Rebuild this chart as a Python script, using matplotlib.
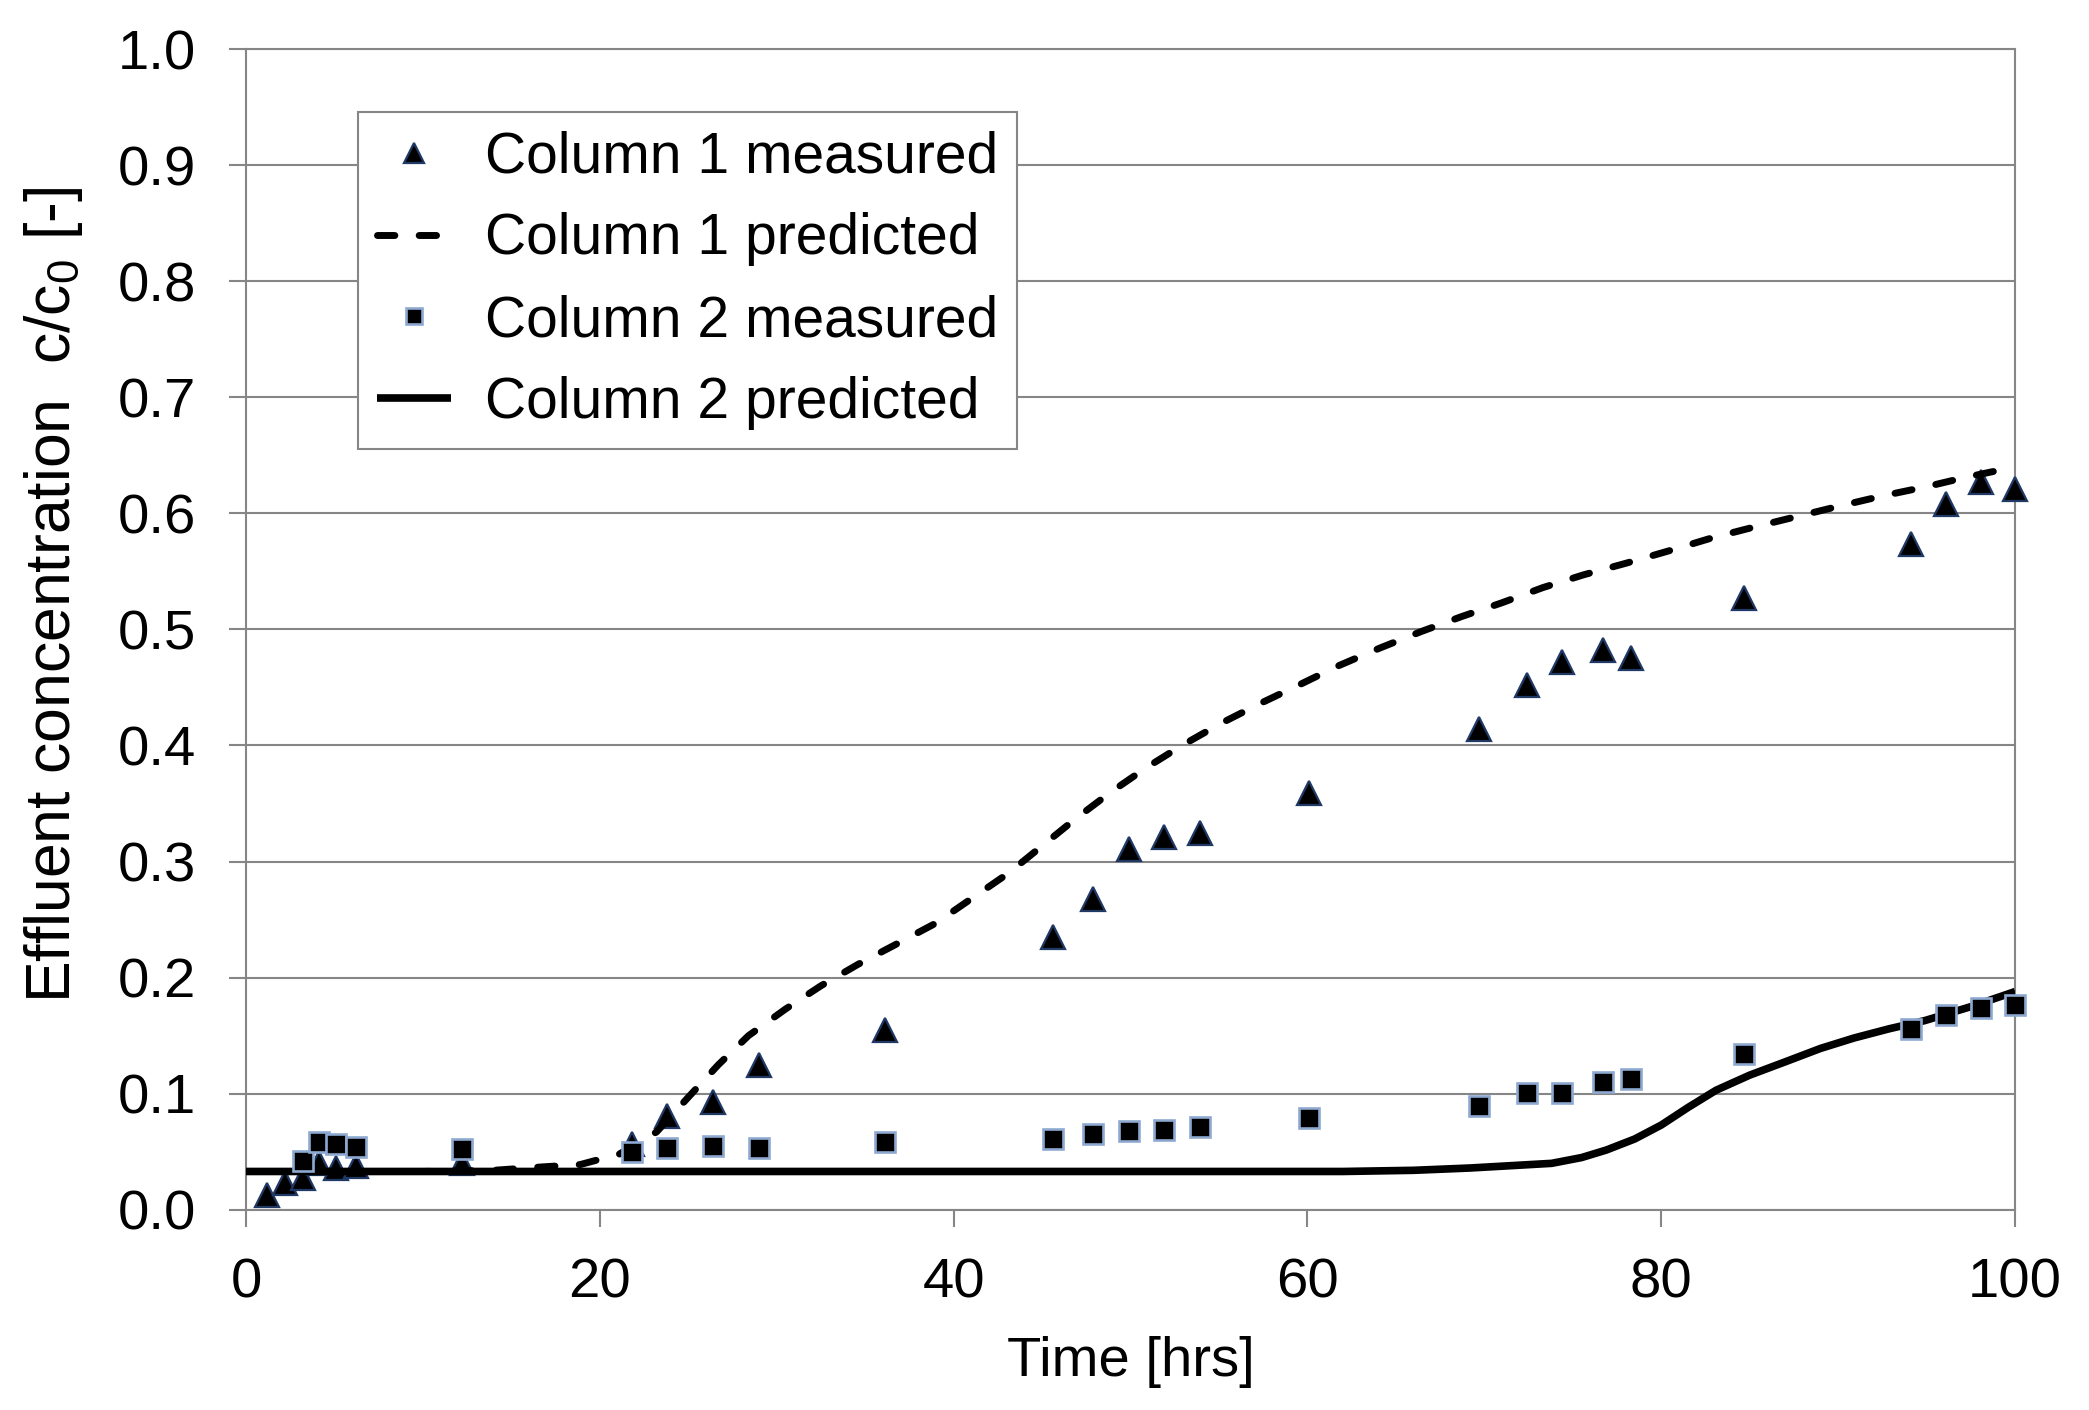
import numpy as np
import matplotlib
matplotlib.use("Agg")
import matplotlib.pyplot as plt

plt.rcParams['font.family'] = ['Liberation Sans', 'DejaVu Sans']
plt.rcParams['mathtext.fontset'] = 'custom'
plt.rcParams['mathtext.rm'] = 'Liberation Sans'
plt.rcParams['mathtext.it'] = 'Liberation Sans:italic'
plt.rcParams['mathtext.default'] = 'rm'

# measured points
t_col1 = [1.2, 2.2, 3.2, 4.1, 5.1, 6.2, 12.2, 21.8, 23.8, 26.4, 29.0, 36.1,
          45.6, 47.9, 49.9, 51.9, 53.9, 60.1, 69.7, 72.4, 74.4, 76.7, 78.3,
          84.7, 94.1, 96.1, 98.1, 100.0]
c_col1 = [0.013, 0.023, 0.027, 0.040, 0.036, 0.038, 0.040, 0.057, 0.081, 0.093,
          0.125, 0.155, 0.235, 0.268, 0.311, 0.321, 0.325, 0.359, 0.414, 0.452,
          0.472, 0.482, 0.475, 0.527, 0.574, 0.608, 0.627, 0.621]

t_col2 = [3.2, 4.1, 5.1, 6.2, 12.2, 21.8, 23.8, 26.4, 29.0, 36.1,
          45.6, 47.9, 49.9, 51.9, 53.9, 60.1, 69.7, 72.4, 74.4, 76.7, 78.3,
          84.7, 94.1, 96.1, 98.1, 100.0]
c_col2 = [0.042, 0.058, 0.057, 0.054, 0.052, 0.050, 0.053, 0.055, 0.053, 0.058,
          0.061, 0.065, 0.068, 0.069, 0.071, 0.079, 0.089, 0.101, 0.101, 0.110,
          0.113, 0.134, 0.156, 0.168, 0.174, 0.176]

# predicted curves
t_pred1 = [0, 5, 10, 14, 16.4, 18.9, 21.1, 23.2, 25.0, 26.7, 28.4, 30.5, 32.5,
           34.6, 36.9, 39.0, 41.0, 43.1, 45.0, 46.9, 48.9, 50.9, 52.9, 55.1,
           57.3, 59.5, 61.8, 64.1, 66.4, 68.7, 71.0, 73.3, 75.6, 78.0, 80.5,
           82.9, 85.2, 87.6, 90.0, 92.5, 95.0, 97.2, 100]
c_pred1 = [0.033, 0.033, 0.033, 0.034, 0.0366, 0.039, 0.048, 0.067, 0.097, 0.125,
           0.150, 0.173, 0.193, 0.2115, 0.230, 0.247, 0.268, 0.290, 0.3135, 0.337,
           0.360, 0.381, 0.400, 0.419, 0.436, 0.452, 0.469, 0.484, 0.498, 0.511,
           0.523, 0.536, 0.547, 0.557, 0.568, 0.579, 0.588, 0.597, 0.606, 0.615,
           0.623, 0.631, 0.640]

t_pred2 = [0, 20, 40, 62, 66, 69.2, 71.5, 73.8, 75.5, 76.9, 78.5, 80.0, 81.5,
           83.1, 85.0, 87.1, 89.0, 90.9, 92.9, 94.9, 97.5, 100]
c_pred2 = [0.033, 0.033, 0.033, 0.033, 0.034, 0.036, 0.038, 0.040, 0.045, 0.0515,
           0.061, 0.073, 0.088, 0.103, 0.116, 0.128, 0.139, 0.148, 0.156, 0.163,
           0.175, 0.188]

grid_col = '#868686'

fig = plt.figure(figsize=(20.89, 14.10), dpi=100)
ax = fig.add_axes([0.1178, 0.1420, 0.8468, 0.8232])

ax.plot(t_col1, c_col1, linestyle='none', marker='^', markersize=17.5,
        markerfacecolor='black', markeredgecolor='#1F3864', markeredgewidth=1.6,
        label='Column 1 measured', clip_on=False, zorder=3)
ax.plot(t_pred1, c_pred1, color='black', linewidth=5, linestyle=(0, (2.5, 3.5)),
        dash_capstyle='round', label='Column 1 predicted', zorder=4)
ax.plot(t_col2, c_col2, linestyle='none', marker='s', markersize=14.5,
        markerfacecolor='black', markeredgecolor='#8EA9D1', markeredgewidth=1.9,
        label='Column 2 measured', clip_on=False, zorder=5)
ax.plot(t_pred2, c_pred2, color='black', linewidth=5.5, solid_capstyle='butt',
        label='Column 2 predicted', zorder=4)

ax.set_xlim(0, 100)
ax.set_ylim(0, 1.0)
ax.set_xticks(np.arange(0, 101, 20))
ax.set_yticks(np.arange(0, 1.01, 0.1))
ax.set_yticklabels([f"{v:.1f}" for v in np.arange(0, 1.01, 0.1)])

ax.grid(axis='y', color=grid_col, linewidth=1.5)
ax.set_axisbelow(True)
for s in ['left', 'right', 'top', 'bottom']:
    ax.spines[s].set_color(grid_col)
    ax.spines[s].set_linewidth(1.5)

ax.tick_params(axis='both', direction='out', color=grid_col, width=1.5,
               length=12, labelsize=40.5)
ax.tick_params(axis='y', pad=24)
ax.tick_params(axis='x', pad=22)

ax.set_xlabel('Time [hrs]', fontsize=40.5)
ax.xaxis.set_label_coords(0.5, -0.109)
ax.set_ylabel(r'Effluent concentration  c/c$_0$ [-]', fontsize=45)
ax.yaxis.set_label_coords(-0.091, 0.53)

leg = ax.legend(loc='upper left', bbox_to_anchor=(0.0633, 0.946),
                fontsize=41, frameon=True, fancybox=False, framealpha=1,
                edgecolor=grid_col, borderaxespad=0, borderpad=0.33,
                labelspacing=0.49, handlelength=1.3, handletextpad=0.6,
                markerscale=0.8)
leg.get_frame().set_linewidth(1.5)

fig.savefig('out.png', dpi=100)
